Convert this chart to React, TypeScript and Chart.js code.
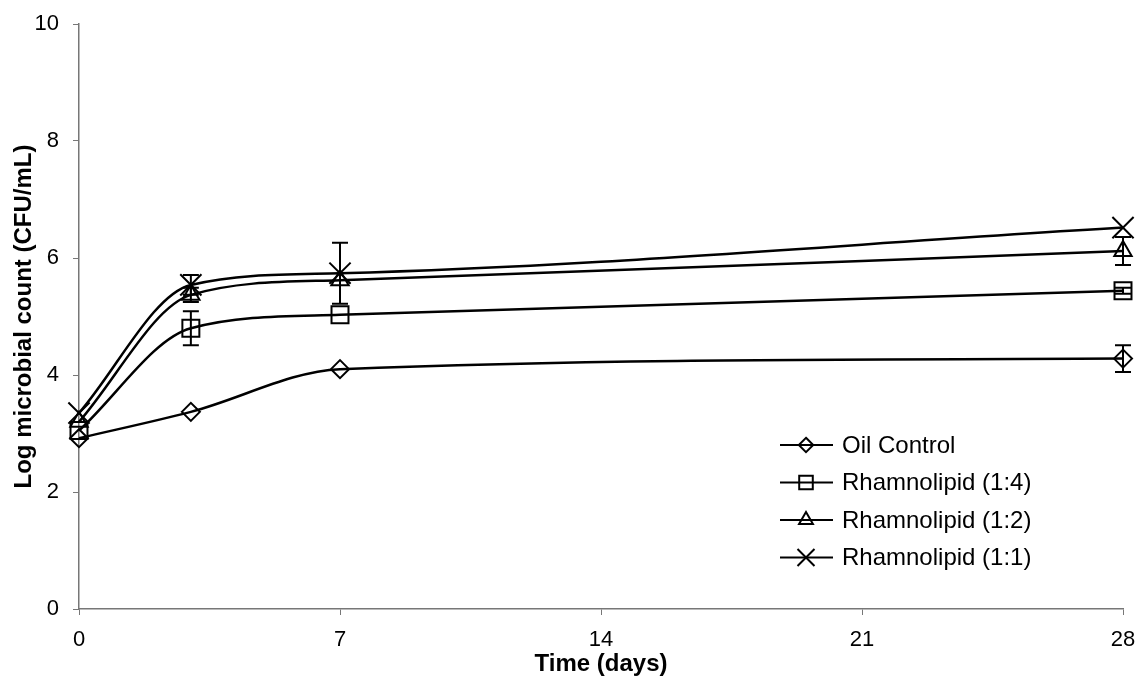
import React, { useEffect, useRef } from "react";
import { Chart, registerables } from "chart.js";

Chart.register(...registerables);

const days = [0, 3, 7, 28];
const xTicks = [0, 7, 14, 21, 28];
const seriesNames = ["Oil Control", "Rhamnolipid (1:4)", "Rhamnolipid (1:2)", "Rhamnolipid (1:1)"];
const oilControl = [2.92, 3.37, 4.1, 4.28];
const oilControlErr = [0, 0, 0, 0.23];
const rham14 = [3.05, 4.8, 5.03, 5.44];
const rham14Err = [0, 0.29, 0, 0.05];
const rham12 = [3.2, 5.37, 5.62, 6.12];
const rham12Err = [0, 0.12, 0, 0.24];
const rham11 = [3.35, 5.54, 5.74, 6.52];
const rham11Err = [0, 0.17, 0.52, 0];

const FONT = "'Liberation Sans', Arial, sans-serif";

const markerStyles = ["rectRot", "rect", "triangle", "crossRot"];
const markerRadii = [9, 12, 10, 15];

function drawMarker(ctx: CanvasRenderingContext2D, style: string, x: number, y: number, r: number) {
  ctx.beginPath();
  if (style === "rectRot") {
    ctx.moveTo(x, y - r);
    ctx.lineTo(x + r, y);
    ctx.lineTo(x, y + r);
    ctx.lineTo(x - r, y);
    ctx.closePath();
  } else if (style === "rect") {
    const s = r * Math.SQRT1_2;
    ctx.rect(x - s, y - s, 2 * s, 2 * s);
  } else if (style === "triangle") {
    ctx.moveTo(x, y - r);
    ctx.lineTo(x + r * 0.866, y + r * 0.5);
    ctx.lineTo(x - r * 0.866, y + r * 0.5);
    ctx.closePath();
  } else {
    const s = r * Math.SQRT1_2;
    ctx.moveTo(x - s, y - s);
    ctx.lineTo(x + s, y + s);
    ctx.moveTo(x + s, y - s);
    ctx.lineTo(x - s, y + s);
  }
  ctx.stroke();
}

const errorBarPlugin = {
  id: "errorBars",
  afterDatasetsDraw(chart: any) {
    const ctx = chart.ctx;
    const xs = chart.scales.x;
    const ys = chart.scales.y;
    ctx.save();
    ctx.strokeStyle = "#000";
    ctx.lineWidth = 2;
    chart.data.datasets.forEach((ds: any) => {
      const errs: number[] = ds.errors || [];
      ds.data.forEach((p: any, i: number) => {
        const e = errs[i];
        if (!e) return;
        const px = xs.getPixelForValue(p.x);
        const y1 = ys.getPixelForValue(p.y + e);
        const y2 = ys.getPixelForValue(p.y - e);
        ctx.beginPath();
        ctx.moveTo(px, y1);
        ctx.lineTo(px, y2);
        ctx.moveTo(px - 8, y1);
        ctx.lineTo(px + 8, y1);
        ctx.moveTo(px - 8, y2);
        ctx.lineTo(px + 8, y2);
        ctx.stroke();
      });
    });
    ctx.restore();
  },
};

const legendPlugin = {
  id: "customLegend",
  afterDraw(chart: any) {
    const ctx = chart.ctx;
    const area = chart.chartArea;
    const lineX1 = area.left + 701;
    const lineX2 = area.left + 754;
    const markX = area.left + 727;
    const textX = area.left + 763;
    const startY = area.top + 421;
    const gap = 37.5;
    ctx.save();
    ctx.strokeStyle = "#000";
    ctx.fillStyle = "#000";
    ctx.font = `24px ${FONT}`;
    ctx.textBaseline = "middle";
    ctx.textAlign = "left";
    seriesNames.forEach((name, i) => {
      const y = startY + i * gap;
      ctx.lineWidth = 2;
      ctx.beginPath();
      ctx.moveTo(lineX1, y);
      ctx.lineTo(lineX2, y);
      ctx.stroke();
      ctx.lineWidth = 2;
      drawMarker(ctx, markerStyles[i], markX, y, markerRadii[i] * 0.8);
      ctx.fillText(name, textX, y + 1);
    });
    ctx.restore();
  },
};

function makeData(vals: number[]) {
  return days.map((d, i) => ({ x: d, y: vals[i] }));
}

export default function App() {
  const canvasRef = useRef<HTMLCanvasElement | null>(null);

  useEffect(() => {
    document.body.style.margin = "0";
    const canvas = canvasRef.current;
    if (!canvas) return;
    const allVals = [oilControl, rham14, rham12, rham11];
    const allErrs = [oilControlErr, rham14Err, rham12Err, rham11Err];
    const chart = new Chart(canvas, {
      type: "line",
      data: {
        datasets: seriesNames.map((name, i) => ({
          label: name,
          data: makeData(allVals[i]),
          errors: allErrs[i],
          borderColor: "#000",
          borderWidth: 2.5,
          backgroundColor: "transparent",
          pointStyle: markerStyles[i],
          pointRadius: markerRadii[i],
          pointBorderWidth: 2,
          pointBorderColor: "#000",
          pointBackgroundColor: "transparent",
          cubicInterpolationMode: "monotone",
          fill: false,
          clip: false,
        })) as any,
      },
      options: {
        animation: false,
        responsive: true,
        maintainAspectRatio: false,
        layout: { padding: { top: 24, right: 20, left: 0, bottom: 0 } },
        plugins: {
          legend: { display: false },
          tooltip: { enabled: false },
        },
        scales: {
          x: {
            type: "linear",
            min: 0,
            max: 28,
            afterFit: (s: any) => {
              s.height = 79;
              s.paddingLeft = 0;
              s.paddingRight = 0;
            },
            afterBuildTicks: (s: any) => {
              s.ticks = xTicks.map((v) => ({ value: v }));
            },
            ticks: {
              color: "#000",
              font: { family: FONT, size: 22 },
              padding: 12,
            },
            grid: {
              display: true,
              drawOnChartArea: false,
              tickLength: 6,
              color: "#777",
            },
            border: { color: "#777", width: 1.5 },
            title: {
              display: true,
              text: "Time (days)",
              color: "#000",
              font: { family: FONT, size: 24, weight: "bold" },
              padding: { top: 0, bottom: 9 },
            },
          },
          y: {
            min: 0,
            max: 10,
            afterFit: (s: any) => {
              s.width = 79;
              s.paddingTop = 0;
              s.paddingBottom = 0;
            },
            ticks: {
              stepSize: 2,
              color: "#000",
              font: { family: FONT, size: 22 },
              padding: 14,
            },
            grid: {
              display: true,
              drawOnChartArea: false,
              tickLength: 6,
              color: "#777",
            },
            border: { color: "#777", width: 1.5 },
            title: {
              display: true,
              text: "Log microbial count (CFU/mL)",
              color: "#000",
              font: { family: FONT, size: 24, weight: "bold" },
              padding: { top: 10, bottom: 0 },
            },
          },
        },
      } as any,
      plugins: [errorBarPlugin, legendPlugin],
    });
    return () => chart.destroy();
  }, []);

  return (
    <div style={{ position: "fixed", left: 0, top: 0, width: 1143, height: 688, background: "#fff" }}>
      <canvas ref={canvasRef} />
    </div>
  );
}
